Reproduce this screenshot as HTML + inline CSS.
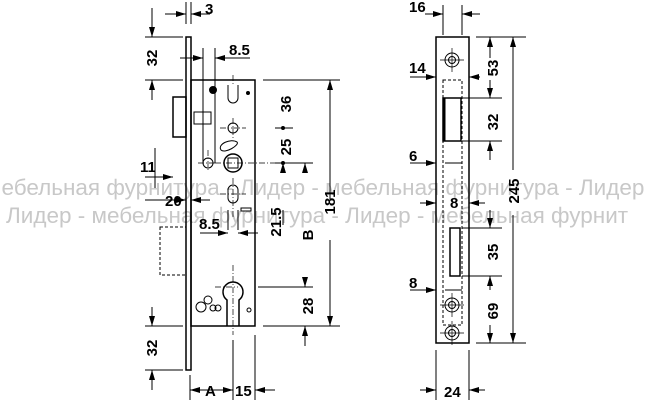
<!DOCTYPE html>
<html><head><meta charset="utf-8"><style>
html,body{margin:0;padding:0;background:#fff;width:659px;height:400px;overflow:hidden}
svg{display:block}
text{font-family:"Liberation Sans",sans-serif;font-weight:bold;font-size:15px;fill:#000}
.wm{font-weight:normal;font-size:22.5px;fill:#c8c8c8}
</style></head><body>
<svg width="659" height="400" viewBox="0 0 659 400">
<defs>
<marker id="a" markerWidth="10" markerHeight="6" refX="10" refY="3" orient="auto" markerUnits="userSpaceOnUse"><path d="M0,0 L10,3 L0,6z" fill="#000"/></marker>
</defs>
<text class="wm" x="-14" y="195">мебельная фурнитура - Лидер - мебельная фурнитура - Лидер</text>
<text class="wm" x="6" y="223">Лидер - мебельная фурнитура - Лидер - мебельная фурнит</text>
<g stroke="#000" fill="none" stroke-width="1">
<rect x="186" y="37" width="5" height="333" stroke-width="1.5"/>
<rect x="191" y="80" width="64" height="246" stroke-width="1.5"/>
<rect x="173" y="97" width="13" height="40" stroke-width="1.5"/>
<rect x="194" y="112" width="17" height="12"/>
<rect x="160" y="227" width="26" height="48" stroke-dasharray="3,2"/>
<circle cx="213" cy="90" r="3.5" fill="#000"/>
<circle cx="248" cy="93" r="1.5" fill="#000"/>
<path d="M228,85 v13 a5,5 0 0 0 10,0 v-13"/>
<circle cx="233" cy="128" r="5"/>
<path d="M221,150 c-4,-6 10,-12 16,-8 c3,3 -12,12 -16,8z"/>
<circle cx="233" cy="163" r="9" stroke-width="1.5"/>
<rect x="228" y="158" width="10" height="10"/>
<circle cx="208" cy="163" r="5"/>
<rect x="228" y="185" width="10" height="18" rx="5"/>
<rect x="241" y="208" width="10" height="3" fill="#fff"/>
<path d="M227,326 v-26 a10,10 0 1 1 12,0 v26" stroke-width="1.5"/>
<circle cx="201" cy="307" r="5"/><circle cx="208" cy="300" r="4"/><circle cx="213" cy="308" r="3"/><circle cx="218" cy="308" r="3"/>
<circle cx="249" cy="310" r="2"/>
<path d="M233,75 v10 M233,118 v20 M220,128 h26 M215,163 h60 M198,163 h20 M208,150 v20 M233,178 v40 M220,194 h26 M233,265 v70 M215,287 h23" stroke-dasharray="6,2,1,2" stroke-width="0.7"/>
<path d="M186,2 v22 M191,2 v22"/>
<path d="M165,14 h21" marker-end="url(#a)"/><path d="M210,14 h-19" marker-end="url(#a)"/>
<path d="M145,80 h38 M145,37 h38"/>
<path d="M152,8 v29" marker-end="url(#a)"/><path d="M152,100 v-20" marker-end="url(#a)"/>
<path d="M203,48 v115 M215,48 v115"/>
<path d="M180,58 h23" marker-end="url(#a)"/><path d="M250,58 h-35" marker-end="url(#a)"/>
<path d="M275,128 h18 M275,163 h18"/>
<circle cx="283" cy="128" r="1.5" fill="#000"/><circle cx="283" cy="163" r="1.5" fill="#000"/>
<path d="M263,80 h77 M263,326 h77"/>
<path d="M330,200 v-120" marker-end="url(#a)"/><path d="M330,240 v86" marker-end="url(#a)"/>
<path d="M283,163 h30"/>
<path d="M305,170 v-7" marker-end="url(#a)"/><path d="M305,277 v10" marker-end="url(#a)"/>
<path d="M258,287 h55"/>
<path d="M305,346 v-20" marker-end="url(#a)"/>
<path d="M283,170 v-7" marker-end="url(#a)"/><path d="M283,225 v-15"/>
<path d="M155,148 v40"/>
<path d="M145,177 h28" marker-end="url(#a)"/>
<path d="M145,200 h41" marker-end="url(#a)"/><path d="M210,200 h-19" marker-end="url(#a)"/>
<path d="M200,233 h28" marker-end="url(#a)"/><path d="M258,233 h-20" marker-end="url(#a)"/>
<path d="M228,210 v20 M238,210 v20"/>
<path d="M145,326 h38 M145,370 h38"/>
<path d="M152,307 v19" marker-end="url(#a)"/><path d="M152,390 v-20" marker-end="url(#a)"/>
<path d="M190,375 v25 M233,340 v60 M255,335 v65"/>
<path d="M211,390 h-21" marker-end="url(#a)"/><path d="M211,390 h22" marker-end="url(#a)"/>
<path d="M275,390 h-20" marker-end="url(#a)"/>
<rect x="436" y="37" width="33" height="306" stroke-width="1.5"/>
<rect x="443" y="80" width="19" height="245" stroke-dasharray="3,2"/>
<rect x="443" y="98" width="18" height="43" stroke-width="1.5"/>
<path d="M444,98 v43" stroke-width="3"/>
<rect x="450" y="228" width="10" height="48" stroke-width="1.5"/>
<circle cx="452" cy="60" r="7"/><circle cx="452" cy="60" r="3.5"/>
<circle cx="452" cy="305" r="7"/><circle cx="452" cy="305" r="3.5"/>
<circle cx="452" cy="333" r="7"/><circle cx="452" cy="333" r="3.5"/>
<path d="M440,60 h24 M452,48 v24 M440,305 h24 M452,293 v24 M440,333 h24 M452,321 v24" stroke-width="0.7"/>
<path d="M443,5 v30 M462,5 v30"/>
<path d="M425,14 h18" marker-end="url(#a)"/><path d="M480,14 h-18" marker-end="url(#a)"/>
<path d="M410,77 h26" marker-end="url(#a)"/><path d="M480,77 h-11" marker-end="url(#a)"/>
<path d="M476,37 h50 M476,343 h50 M462,98 h40 M462,141 h40 M462,228 h40 M462,276 h40"/>
<path d="M490,58 v-21" marker-end="url(#a)"/><path d="M490,80 v18" marker-end="url(#a)"/>
<path d="M490,160 v-19" marker-end="url(#a)"/>
<path d="M490,210 v18" marker-end="url(#a)"/>
<path d="M490,290 v-14" marker-end="url(#a)"/><path d="M490,325 v18" marker-end="url(#a)"/>
<path d="M513,170 v-133" marker-end="url(#a)"/><path d="M513,215 v128" marker-end="url(#a)"/>
<path d="M410,163 h26" marker-end="url(#a)"/><path d="M445,163 h17"/>
<path d="M420,203 h16" marker-end="url(#a)"/><path d="M485,203 h-16" marker-end="url(#a)"/>
<path d="M410,290 h26" marker-end="url(#a)"/><path d="M445,290 h17"/>
<path d="M436,350 v50 M469,350 v50"/>
<path d="M420,390 h16" marker-end="url(#a)"/><path d="M485,390 h-16" marker-end="url(#a)"/>
</g>
<text x="205" y="14">3</text>
<text x="229" y="55">8.5</text>
<text x="157" y="58" transform="rotate(-90 157 58)" text-anchor="middle">32</text>
<text x="291" y="104" transform="rotate(-90 291 104)" text-anchor="middle">36</text>
<text x="291" y="147" transform="rotate(-90 291 147)" text-anchor="middle">25</text>
<text x="335" y="202" transform="rotate(-90 335 202)" text-anchor="middle">181</text>
<text x="313" y="235" transform="rotate(-90 313 235)" text-anchor="middle">B</text>
<text x="313" y="306" transform="rotate(-90 313 306)" text-anchor="middle">28</text>
<text x="281" y="222" transform="rotate(-90 281 222)" text-anchor="middle">21.5</text>
<text x="140" y="172">11</text>
<text x="165" y="206">20</text>
<text x="199" y="229">8.5</text>
<text x="157" y="348" transform="rotate(-90 157 348)" text-anchor="middle">32</text>
<text x="205" y="396">A</text>
<text x="235" y="396">15</text>
<text x="409" y="12">16</text>
<text x="409" y="73">14</text>
<text x="409" y="161">6</text>
<text x="450" y="208">8</text>
<text x="409" y="288">8</text>
<text x="444" y="397">24</text>
<text x="498" y="68" transform="rotate(-90 498 68)" text-anchor="middle">53</text>
<text x="498" y="122" transform="rotate(-90 498 122)" text-anchor="middle">32</text>
<text x="498" y="252" transform="rotate(-90 498 252)" text-anchor="middle">35</text>
<text x="498" y="311" transform="rotate(-90 498 311)" text-anchor="middle">69</text>
<text x="519" y="191" transform="rotate(-90 519 191)" text-anchor="middle">245</text>
</svg>
</body></html>
